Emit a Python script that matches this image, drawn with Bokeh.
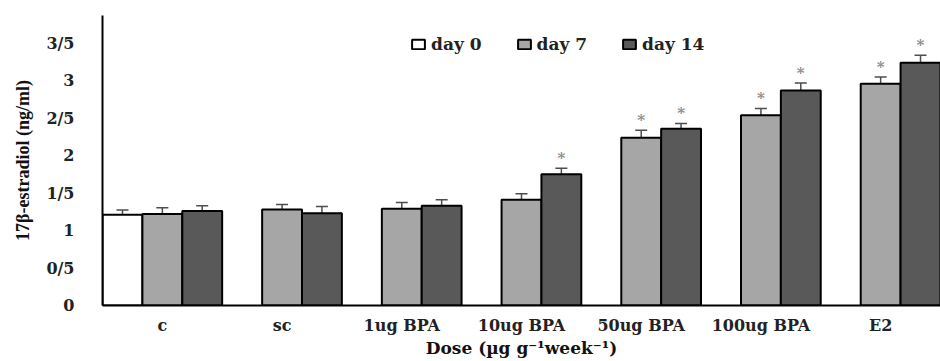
from bokeh.plotting import figure
from bokeh.models import (FactorRange, Range1d, ColumnDataSource, Whisker, Legend,
                          LegendItem, FixedTicker, TeeHead)
from bokeh.transform import dodge
from bokeh.core.properties import value
from bokeh.embed import file_html
from bokeh.resources import INLINE

# ---------------- data ----------------
categories = ["c", "sc", "1ug BPA", "10ug BPA", "50ug BPA", "100ug BPA", "E2"]

day0_cats = ["c"]
day0_vals = [1.21]
day0_err = [0.065]

day7_vals = [1.22, 1.28, 1.29, 1.41, 2.24, 2.54, 2.96]
day7_err = [0.085, 0.067, 0.085, 0.08, 0.10, 0.09, 0.09]
day7_sig = [0, 0, 0, 0, 1, 1, 1]

day14_vals = [1.26, 1.23, 1.33, 1.75, 2.36, 2.87, 3.24]
day14_err = [0.07, 0.09, 0.08, 0.08, 0.07, 0.10, 0.10]
day14_sig = [0, 0, 0, 1, 1, 1, 1]

series_names = ["day 0", "day 7", "day 14"]
y_ticks = [0, 0.5, 1, 1.5, 2, 2.5, 3, 3.5]
y_tick_labels = ["0", "0/5", "1", "1/5", "2", "2/5", "3", "3/5"]

x_title = "Dose (\u00b5g g\u207b\u00b9week\u207b\u00b9)"
y_title = "17\u03b2-estradiol (ng/ml)"

# ---------------- styles ----------------
FONT = "DejaVu Serif"
C0, C7, C14 = "#ffffff", "#a6a6a6", "#595959"
ERR_C = "#4d4d4d"
STAR_C = "#8c8c8c"
BW = 0.333

p = figure(x_range=FactorRange(*categories, range_padding=0),
           y_range=Range1d(0, 3.87),
           width=940, height=361,
           output_backend="svg", toolbar_location=None,
           min_border_left=102, min_border_right=0,
           min_border_top=15, min_border_bottom=56)
p.outline_line_color = None
p.xgrid.grid_line_color = None
p.ygrid.grid_line_color = None
p.background_fill_color = "white"


def make_src(cats, vals, errs):
    return ColumnDataSource(dict(
        x=list(cats), top=list(vals),
        upper=[v + e for v, e in zip(vals, errs)],
        lower=[v - e for v, e in zip(vals, errs)],
    ))


s0 = make_src(day0_cats, day0_vals, day0_err)
s7 = make_src(categories, day7_vals, day7_err)
s14 = make_src(categories, day14_vals, day14_err)

renderers = []
for src, off, col in [(s0, -BW, C0), (s7, 0.0, C7), (s14, BW, C14)]:
    r = p.vbar(x=dodge("x", off, range=p.x_range), top="top", width=BW,
               source=src, fill_color=col, line_color="black", line_width=2)
    renderers.append(r)
    w = Whisker(source=src, base=dodge("x", off, range=p.x_range),
                upper="upper", lower="lower", line_color=ERR_C, line_width=1.5,
                upper_head=TeeHead(size=12, line_color=ERR_C, line_width=1.5),
                lower_head=TeeHead(size=12, line_color=ERR_C, line_width=1.5))
    p.add_layout(w)

# significance stars
for vals, errs, sig, off in [(day7_vals, day7_err, day7_sig, 0.0),
                             (day14_vals, day14_err, day14_sig, BW)]:
    xs = [c for c, s in zip(categories, sig) if s]
    ys = [v + e for v, e, s in zip(vals, errs, sig) if s]
    ssrc = ColumnDataSource(dict(x=xs, y=ys, t=["*"] * len(xs)))
    p.text(x=dodge("x", off, range=p.x_range), y="y", text="t", source=ssrc,
           text_align="center", text_baseline="middle", y_offset=-10,
           text_font=value(FONT), text_font_size="15px",
           text_font_style="bold", text_color=STAR_C)

# axes
p.yaxis.ticker = FixedTicker(ticks=y_ticks)
p.yaxis.major_label_overrides = {t: l for t, l in zip(y_ticks, y_tick_labels)}
for ax in (p.xaxis[0], p.yaxis[0]):
    ax.axis_line_color = "black"
    ax.axis_line_width = 2
    ax.major_tick_line_color = None
    ax.minor_tick_line_color = None
    ax.major_label_text_font = FONT
    ax.major_label_text_font_style = "bold"
    ax.major_label_text_color = "#222222"
    ax.axis_label_text_font_style = "bold"
    ax.axis_label_text_color = "#111111"

p.yaxis.major_label_text_font_size = "16px"
p.yaxis.major_label_standoff = 22
p.yaxis.axis_label = y_title
p.yaxis.axis_label_text_font = "Liberation Serif"
p.yaxis.axis_label_text_font_size = "18px"
p.yaxis.axis_label_standoff = 10

p.xaxis.major_label_text_font_size = "16px"
p.xaxis.major_label_standoff = 4
p.xaxis.axis_label = x_title
p.xaxis.axis_label_text_font = FONT
p.xaxis.axis_label_text_font_size = "17px"
p.xaxis.axis_label_standoff = 0

legend = Legend(items=[LegendItem(label=n, renderers=[r])
                       for n, r in zip(series_names, renderers)],
                orientation="horizontal", location=(308, 251),
                border_line_color=None, background_fill_alpha=0,
                padding=0, margin=0, spacing=34, label_standoff=5,
                glyph_width=16, glyph_height=12,
                label_text_font=FONT, label_text_font_size="17px",
                label_text_font_style="bold", label_text_color="#222222")
p.add_layout(legend)

open("out.html", "w").write(file_html(p, INLINE))
